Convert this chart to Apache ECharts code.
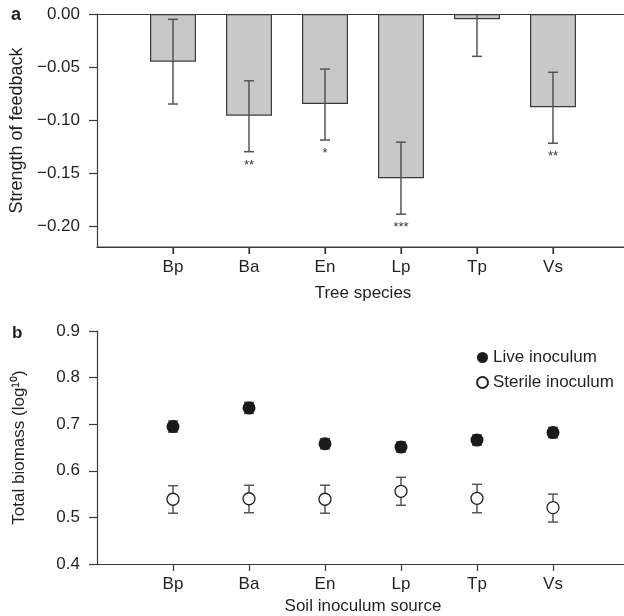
<!DOCTYPE html>
<html>
<head>
<meta charset="utf-8">
<script src="https://cdn.jsdelivr.net/npm/echarts@6/dist/echarts.min.js"></script>
<style>
html, body { margin: 0; padding: 0; background: #fff; }
#chart { width: 624px; height: 616px; }
</style>
</head>
<body>
<div id="chart"></div>
<script>
// 树种（两幅图共用）
const species = ["Bp", "Ba", "En", "Lp", "Tp", "Vs"];

// a: 反馈强度 及 误差线
const feedback = [-0.045, -0.096, -0.085, -0.155, -0.005, -0.088];
const feedbackLow = [-0.085, -0.130, -0.119, -0.189, -0.040, -0.122];
const feedbackHigh = [-0.005, -0.063, -0.052, -0.121, 0.030, -0.055];
const stars = ["", "**", "*", "***", "", "**"];
const feedbackTicks = [0, -0.05, -0.10, -0.15, -0.20];

// b: 总生物量
const live = [0.695, 0.735, 0.658, 0.651, 0.666, 0.682];
const liveLow = [0.683, 0.723, 0.647, 0.640, 0.655, 0.671];
const liveHigh = [0.707, 0.747, 0.669, 0.662, 0.677, 0.693];
const sterile = [0.539, 0.540, 0.539, 0.556, 0.541, 0.521];
const sterileLow = [0.509, 0.510, 0.509, 0.526, 0.510, 0.490];
const sterileHigh = [0.568, 0.569, 0.569, 0.586, 0.571, 0.550];

// 两侧留空的类目
const slots = ["", ...species, ""];

const font = "Liberation Sans, Arial, sans-serif";
const textColor = "#231f20";
const axisColor = "#3a3a3a";
const yMinA = -0.22;

// 误差线绘制
function errorBar(withStars) {
	return function (params, api) {
		const x = api.value(0);
		const lo = api.coord([x, api.value(1)]);
		const hi = api.coord([x, api.value(2)]);
		const top = params.coordSys.y;
		const w = 5;
		const style = { stroke: "#555", lineWidth: 1.5 };
		let hiY = hi[1];
		const clipped = hiY < top;
		if (clipped) hiY = top;
		const children = [
			{ type: "line", shape: { x1: lo[0], y1: lo[1], x2: lo[0], y2: hiY }, style },
			{ type: "line", shape: { x1: lo[0] - w, y1: lo[1], x2: lo[0] + w, y2: lo[1] }, style },
		];
		if (!clipped) {
			children.push({ type: "line", shape: { x1: hi[0] - w, y1: hiY, x2: hi[0] + w, y2: hiY }, style });
		}
		if (withStars && stars[params.dataIndex]) {
			children.push({
				type: "text",
				style: {
					text: stars[params.dataIndex],
					x: lo[0],
					y: lo[1] + 7,
					align: "center",
					verticalAlign: "top",
					fontSize: 13,
					fontFamily: font,
					fill: "#333",
				},
			});
		}
		return { type: "group", children };
	};
}

const tickFilter = (index, value) => value !== "";

function catAxis(gridIndex, name, nameGap) {
	return {
		type: "category",
		gridIndex,
		data: slots,
		boundaryGap: false,
		position: "bottom",
		name,
		nameLocation: "middle",
		nameGap,
		nameTextStyle: { fontSize: 17, color: textColor, fontFamily: font },
		axisLine: { show: true, onZero: false, lineStyle: { color: axisColor, width: 1.2 } },
		axisTick: { show: true, interval: tickFilter, length: 7, lineStyle: { color: axisColor, width: 1.2 } },
		axisLabel: { interval: tickFilter, margin: 12, fontSize: 17, color: textColor, fontFamily: font },
		splitLine: { show: false },
	};
}

const panelLabels = [
	{ type: "text", left: 11, top: 6, style: { text: "a", font: "bold 18px " + font, fill: textColor } },
	{ type: "text", left: 12, top: 325, style: { text: "b", font: "bold 17px " + font, fill: textColor } },
];

const chart = echarts.init(document.getElementById("chart"));

const option = {
	animation: false,
	textStyle: { fontFamily: font },
	graphic: panelLabels,
	grid: [
		{ left: 97, top: 14, width: 532, height: 233, outerBoundsMode: "none" },
		{ left: 97, top: 331, width: 532, height: 233, outerBoundsMode: "none" },
	],
	xAxis: [catAxis(0, "Tree species", 38), catAxis(1, "Soil inoculum source", 34)],
	yAxis: [
		{
			type: "value",
			gridIndex: 0,
			min: yMinA,
			max: 0,
			name: "Strength of feedback",
			nameLocation: "middle",
			nameGap: 69,
			nameTextStyle: { fontSize: 18, color: textColor, fontFamily: font },
			axisLine: { show: true, lineStyle: { color: axisColor, width: 1.2 } },
			axisTick: { show: true, length: 8, customValues: feedbackTicks, lineStyle: { color: axisColor, width: 1.2 } },
			axisLabel: {
				customValues: feedbackTicks,
				margin: 17,
				fontSize: 17,
				color: textColor,
				fontFamily: font,
				formatter: (v) => (v === 0 ? "0.00" : "\u2212" + Math.abs(v).toFixed(2)),
			},
			splitLine: { show: false },
		},
		{
			type: "value",
			gridIndex: 1,
			min: 0.4,
			max: 0.9,
			interval: 0.1,
			name: "Total biomass (log\u00b9\u2070)",
			nameLocation: "middle",
			nameGap: 69,
			nameTextStyle: { fontSize: 17, color: textColor, fontFamily: font },
			axisLine: { show: true, lineStyle: { color: axisColor, width: 1.2 } },
			axisTick: { show: true, length: 8, lineStyle: { color: axisColor, width: 1.2 } },
			axisLabel: {
				margin: 17,
				fontSize: 17,
				color: textColor,
				fontFamily: font,
				formatter: (v) => v.toFixed(1),
			},
			splitLine: { show: false },
		},
	],
	legend: {
		data: ["Live inoculum", "Sterile inoculum"],
		orient: "vertical",
		left: 471,
		top: 344,
		itemWidth: 11,
		itemHeight: 11,
		itemGap: 8,
		textStyle: { fontSize: 17, color: textColor, fontFamily: font },
	},
	series: [
		{
			type: "bar",
			xAxisIndex: 0,
			yAxisIndex: 0,
			barWidth: 46,
			data: species.map((s, i) => [s, feedback[i]]),
			itemStyle: { color: "#c8c8c8", borderColor: "#3a3a3a", borderWidth: 1.2 },
			// 顶部 0 线
			markLine: {
				silent: true,
				symbol: "none",
				label: { show: false },
				lineStyle: { color: axisColor, width: 1.2, type: "solid" },
				data: [{ yAxis: 0 }],
			},
			z: 2,
		},
		{
			type: "custom",
			xAxisIndex: 0,
			yAxisIndex: 0,
			renderItem: errorBar(true),
			data: species.map((s, i) => [s, feedbackLow[i], feedbackHigh[i]]),
			z: 3,
		},
		{
			type: "custom",
			xAxisIndex: 1,
			yAxisIndex: 1,
			renderItem: errorBar(false),
			data: species.map((s, i) => [s, liveLow[i], liveHigh[i]]),
			z: 2,
		},
		{
			type: "custom",
			xAxisIndex: 1,
			yAxisIndex: 1,
			renderItem: errorBar(false),
			data: species.map((s, i) => [s, sterileLow[i], sterileHigh[i]]),
			z: 2,
		},
		{
			name: "Live inoculum",
			type: "scatter",
			xAxisIndex: 1,
			yAxisIndex: 1,
			symbol: "circle",
			symbolSize: 13,
			data: species.map((s, i) => [s, live[i]]),
			itemStyle: { color: "#1a1a1a", opacity: 1 },
			z: 3,
		},
		{
			name: "Sterile inoculum",
			type: "scatter",
			xAxisIndex: 1,
			yAxisIndex: 1,
			symbol: "circle",
			symbolSize: 12,
			data: species.map((s, i) => [s, sterile[i]]),
			itemStyle: { color: "#fff", borderColor: "#222", borderWidth: 1.3, opacity: 1 },
			z: 3,
		},
	],
};

chart.setOption(option);

// a 图底部坐标轴在 v6 中未画出：按坐标系换算后补画轴线与刻度
const axisStyle = { stroke: axisColor, lineWidth: 1.2 };
const yBottom = chart.convertToPixel({ yAxisIndex: 0 }, yMinA);
const xStart = chart.convertToPixel({ xAxisIndex: 0 }, 0);
const xEnd = chart.convertToPixel({ xAxisIndex: 0 }, slots.length - 1);
const axisA = [
	{ type: "line", z: 50, shape: { x1: xStart, y1: yBottom, x2: xEnd, y2: yBottom }, style: axisStyle },
	...species.map((s) => {
		const x = chart.convertToPixel({ xAxisIndex: 0 }, s);
		return { type: "line", z: 50, shape: { x1: x, y1: yBottom, x2: x, y2: yBottom + 7 }, style: axisStyle };
	}),
];
option.graphic = panelLabels.concat(axisA);
chart.setOption(option, true);
</script>
</body>
</html>
